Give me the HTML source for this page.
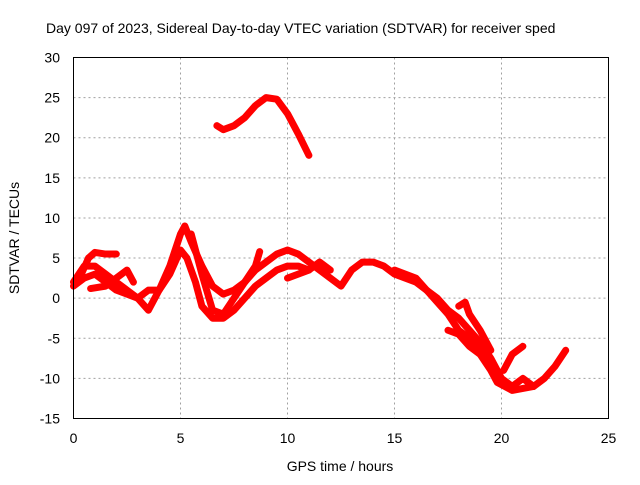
<!DOCTYPE html>
<html><head><meta charset="utf-8"><style>
body{margin:0;background:#fff;width:640px;height:480px;overflow:hidden}
svg{font-family:"Liberation Sans",sans-serif;font-size:14px}
</style></head><body>
<svg id="c" width="640" height="480">
<text x="46" y="33">Day 097 of 2023, Sidereal Day-to-day VTEC variation (SDTVAR) for receiver sped</text>
<text x="340" y="471" text-anchor="middle">GPS time / hours</text>
<text transform="translate(19,238) rotate(-90)" text-anchor="middle">SDTVAR / TECUs</text>
<g id="grid"></g><g id="marks"></g>
<rect x="73.5" y="57.5" width="535" height="361" fill="none" stroke="#000"/>
</svg>
<script>
const xTicks=[0,5,10,15,20,25];
const yTicks=[-15,-10,-5,0,5,10,15,20,25,30];
const seriesA=[[6.7,21.5],[7,21],[7.5,21.5],[8,22.5],[8.5,24],[9,25],[9.5,24.8],[10,23],[10.5,20.5],[11,17.8]];
const seriesB=[[0,2],[0.5,4],[1,4],[1.5,3],[2,2],[2.5,1],[3,0],[3.5,-1.5],[4,1],[4.5,4],[5,8],[5.2,9],[5.5,7],[6,4],[6.5,1.5],[7,0.5],[7.5,1],[8,2],[8.5,3.5],[9,4.5],[9.5,5.5],[10,6],[10.5,5.5],[11,4.5],[11.5,3.5],[12,2.5],[12.5,1.5],[13,3.5],[13.5,4.5],[14,4.5],[14.5,4],[15,3],[15.5,2.5],[16,2],[16.5,1],[17,0],[17.5,-1.5],[18,-2.5],[18.5,-4],[19,-5.5],[19.5,-7.5],[20,-10],[20.5,-11],[21,-10],[21.5,-11],[22,-10],[22.5,-8.5],[23,-6.5]];
const seriesC=[[0,1.5],[0.5,2.5],[1,3],[1.5,2],[2,1],[2.5,0.5],[3,0],[3.5,1],[4,1],[4.5,3],[5,6],[5.3,5],[5.7,2],[6,-1],[6.5,-2.5],[7,-2.5],[7.5,-1.5],[8,0],[8.5,1.5],[9,2.5],[9.5,3.5],[10,4],[10.5,4],[11,3.5]];
const seriesD=[[0.2,2],[0.7,5],[1,5.7],[1.5,5.5],[2,5.5]];
const seriesE=[[0.8,1.2],[1.5,1.5],[2,2.5],[2.5,3.5],[2.8,2]];
const seriesF=[[5.5,8],[6,3],[6.5,-1.5],[7,-2],[7.5,0],[8,2],[8.5,4],[8.7,5.8]];
const seriesG=[[10,2.5],[10.5,3],[11,3.5],[11.5,4.5],[12,3.5]];
const seriesH=[[15,3.5],[16,2.5],[17,-0.5],[17.5,-2],[18,-4],[18.5,-5],[19,-6.5],[19.5,-8]];
const seriesI=[[17.5,-4],[18,-4.5],[18.5,-6],[19,-7],[19.5,-9],[19.8,-10.5],[20.5,-11.5],[21.5,-11]];
const seriesJ=[[18,-1],[18.3,-0.5],[18.5,-2],[19,-4],[19.5,-6.5]];
const seriesK=[[20.1,-9],[20.5,-7],[21,-6]];
const allSeries=[seriesA,seriesB,seriesC,seriesD,seriesE,seriesF,seriesG,seriesH,seriesI,seriesJ,seriesK];
const X0=73.5,X1=608.5,Y0=418.5,Y1=57.5;
const xs=v=>X0+(v-0)/25*(X1-X0);
const ys=v=>Y0-(v+15)/45*(Y0-Y1);
const NS="http://www.w3.org/2000/svg";
const grid=document.getElementById('grid'),marks=document.getElementById('marks');
function mk(tag,attrs,parent){const e=document.createElementNS(NS,tag);for(const k in attrs)e.setAttribute(k,attrs[k]);parent.appendChild(e);return e;}
xTicks.forEach(t=>{const x=xs(t);
 if(t>0&&t<25){const l=mk('line',{x1:x,x2:x,y1:Y1,y2:Y0,stroke:'#a0a0a0','stroke-dasharray':'2,3'},grid);
 
 }
 const tx=mk('text',{x:x,y:443,'text-anchor':'middle'},grid);tx.textContent=t;
 
 });
yTicks.forEach(t=>{const y=ys(t);
 if(t>-15&&t<30){const l=mk('line',{x1:X0,x2:X1,y1:y,y2:y,stroke:'#a0a0a0','stroke-dasharray':'2,3'},grid);
 
 }
 const tx=mk('text',{x:60,y:y+5,'text-anchor':'end'},grid);tx.textContent=t;
 
 });
allSeries.forEach((s,i)=>{
 const p=mk('polyline',{points:s.map(d=>xs(d[0])+','+ys(d[1])).join(' '),fill:'none',stroke:'#ff0000','stroke-width':7,'stroke-linejoin':'round','stroke-linecap':'round'},marks);
 
 
});
</script>
</body></html>
